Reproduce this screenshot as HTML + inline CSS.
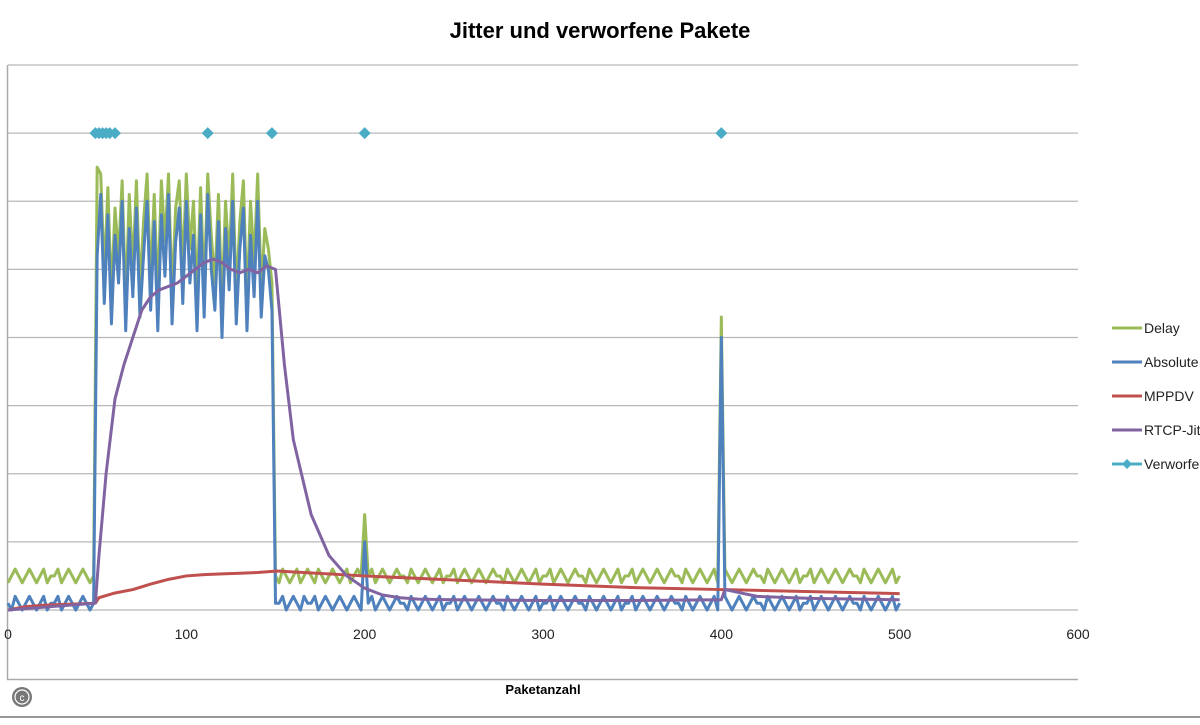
<!DOCTYPE html>
<html><head><meta charset="utf-8"><style>
body{margin:0;background:#fff;width:1200px;height:720px;overflow:hidden;font-family:"Liberation Sans",sans-serif}
</style></head><body>
<svg id="chart" width="1200" height="720" xmlns="http://www.w3.org/2000/svg" font-family="Liberation Sans, sans-serif">
<rect width="1200" height="720" fill="#fff"/>
<line x1="0" y1="717" x2="1200" y2="717" stroke="#999" stroke-width="2"/>
<text x="600" y="38" text-anchor="middle" font-size="22" font-weight="bold" fill="#000">Jitter und verworfene Pakete</text>
<g id="grid"></g>
<line x1="7.5" y1="65" x2="7.5" y2="679.5" stroke="#aaa" stroke-width="1.5"/>
<line x1="7" y1="679.5" x2="1078" y2="679.5" stroke="#aaa" stroke-width="1.5"/>
<g id="xticks"></g>
<text x="543" y="694" text-anchor="middle" font-size="13" font-weight="bold">Paketanzahl</text>
<g id="series"></g>
<g id="legend"></g>
<g><circle cx="22" cy="697" r="10" fill="#777"/><circle cx="22" cy="697" r="7" fill="none" stroke="#fff" stroke-width="1.2"/><text x="22" y="701" text-anchor="middle" font-size="10" fill="#fff">c</text></g>
</svg>
<script>
const xTicks=[0,100,200,300,400,500,600];
const step=2;
const absVals=[0.1,0.0,0.2,0.1,0.0,0.1,0.2,0.1,0.0,0.1,0.2,0.0,0.1,0.1,0.2,0.0,0.1,0.2,0.1,0.0,0.1,0.2,0.1,0.0,0.1,
5.2,6.1,4.5,5.8,4.2,5.5,4.8,6.0,4.1,5.6,4.6,5.9,4.3,5.2,6.0,4.4,5.7,4.1,5.8,4.9,6.1,4.2,5.4,5.9,4.5,6.0,4.8,5.5,4.1,5.8,4.3,6.1,5.0,4.4,5.7,4.0,5.6,4.7,6.0,4.2,5.3,5.9,4.1,5.5,4.6,6.0,4.3,5.2,5.0,4.4,
0.1,0.1,0.2,0.0,0.1,0.2,0.1,0.0,0.2,0.1,0.1,0.2,0.0,0.1,0.2,0.1,0.0,0.1,0.2,0.1,0.0,0.1,0.2,0.1,0.0,
1.0,
0.1,0.2,0.0,0.1,0.2,0.1,0.0,0.1,0.2,0.1,0.1,0.0,0.2,0.1,0.0,0.1,0.2,0.1,0.0,0.1,0.2,0.0,0.1,0.1,0.2,0.0,0.1,0.2,0.1,0.0,0.1,0.2,0.1,0.0,0.1,0.2,0.1,0.1,0.0,0.2,0.1,0.0,0.1,0.2,0.1,0.0,0.1,0.2,0.0,0.1,
0.1,0.2,0.0,0.1,0.2,0.1,0.0,0.1,0.2,0.1,0.1,0.0,0.2,0.1,0.0,0.1,0.2,0.1,0.0,0.1,0.2,0.0,0.1,0.1,0.2,0.0,0.1,0.2,0.1,0.0,0.1,0.2,0.1,0.0,0.1,0.2,0.1,0.1,0.0,0.2,0.1,0.0,0.1,0.2,0.1,0.0,0.1,0.2,0.0,
4.0,
0.2,0.1,0.0,0.1,0.2,0.1,0.0,0.1,0.2,0.1,0.1,0.0,0.2,0.1,0.0,0.1,0.2,0.1,0.0,0.1,0.2,0.0,0.1,0.1,0.2,0.0,0.1,0.2,0.1,0.0,0.1,0.2,0.1,0.0,0.1,0.2,0.1,0.1,0.0,0.2,0.1,0.0,0.1,0.2,0.1,0.0,0.1,0.2,0.0,0.1];
const delayVals=[0.4,0.5,0.6,0.5,0.4,0.5,0.6,0.5,0.4,0.5,0.6,0.4,0.5,0.5,0.6,0.4,0.5,0.6,0.5,0.4,0.5,0.6,0.5,0.4,0.5,
6.5,6.4,4.9,6.2,4.6,5.9,5.2,6.3,4.5,6.1,5.0,6.3,4.7,5.7,6.4,4.8,6.1,4.6,6.3,5.4,6.4,4.6,5.9,6.3,5.0,6.4,5.3,6.0,4.6,6.2,4.7,6.4,5.5,4.8,6.1,4.5,6.0,5.1,6.4,4.6,5.7,6.3,4.5,6.0,5.1,6.4,4.7,5.6,5.3,4.8,
0.5,0.4,0.6,0.5,0.4,0.5,0.6,0.4,0.5,0.6,0.5,0.4,0.6,0.5,0.4,0.5,0.6,0.5,0.4,0.5,0.6,0.4,0.5,0.6,0.5,
1.4,
0.5,0.6,0.4,0.5,0.6,0.5,0.4,0.5,0.6,0.5,0.5,0.4,0.6,0.5,0.4,0.5,0.6,0.5,0.4,0.5,0.6,0.4,0.5,0.5,0.6,0.4,0.5,0.6,0.5,0.4,0.5,0.6,0.5,0.4,0.5,0.6,0.5,0.5,0.4,0.6,0.5,0.4,0.5,0.6,0.5,0.4,0.5,0.6,0.4,0.5,
0.5,0.6,0.4,0.5,0.6,0.5,0.4,0.5,0.6,0.5,0.5,0.4,0.6,0.5,0.4,0.5,0.6,0.5,0.4,0.5,0.6,0.4,0.5,0.5,0.6,0.4,0.5,0.6,0.5,0.4,0.5,0.6,0.5,0.4,0.5,0.6,0.5,0.5,0.4,0.6,0.5,0.4,0.5,0.6,0.5,0.4,0.5,0.6,0.4,
4.3,
0.6,0.5,0.4,0.5,0.6,0.5,0.4,0.5,0.6,0.5,0.5,0.4,0.6,0.5,0.4,0.5,0.6,0.5,0.4,0.5,0.6,0.4,0.5,0.5,0.6,0.4,0.5,0.6,0.5,0.4,0.5,0.6,0.5,0.4,0.5,0.6,0.5,0.5,0.4,0.6,0.5,0.4,0.5,0.6,0.5,0.4,0.5,0.6,0.4,0.5];
const mppdvX=[0,10,20,30,40,49,51,60,70,80,90,100,110,120,130,140,150,152,200,250,300,350,400,402,450,500];
const mppdvY=[0,0.05,0.07,0.08,0.09,0.1,0.18,0.25,0.3,0.38,0.45,0.5,0.52,0.53,0.54,0.55,0.57,0.57,0.5,0.44,0.38,0.33,0.3,0.3,0.27,0.24];
const rtcpX=[0,49,51,55,60,65,70,75,80,85,90,95,100,105,110,115,120,125,130,135,140,145,150,155,160,170,180,190,200,210,220,230,250,300,350,400,402,420,450,500];
const rtcpY=[0,0.1,0.8,2.0,3.1,3.6,4.0,4.4,4.6,4.7,4.75,4.8,4.9,5.0,5.1,5.15,5.1,5.0,4.95,5.0,4.95,5.05,5.0,3.6,2.5,1.4,0.8,0.5,0.32,0.22,0.18,0.16,0.15,0.14,0.14,0.15,0.3,0.2,0.17,0.15];
const dropX=[49,51,53,55,57,60,112,148,200,400];
const dropY=[7,7,7,7,7,7,7,7,7,7];
const legendNames=["Delay","Absolute","MPPDV","RTCP-Jitter","Verworfene"];
const NS="http://www.w3.org/2000/svg";
const X=v=>8+v*(1078-8)/600;
const Y=v=>610-v*(610-65)/8;
const grid=document.getElementById('grid');
for(let k=0;k<=8;k++){const l=document.createElementNS(NS,'line');


l.setAttribute('x1',8);l.setAttribute('x2',1078);l.setAttribute('y1',Y(k));l.setAttribute('y2',Y(k));l.setAttribute('stroke','#b8b8b8');l.setAttribute('stroke-width',1.3);grid.appendChild(l);}
const xt=document.getElementById('xticks');
xTicks.forEach(t=>{const e=document.createElementNS(NS,'text');


e.setAttribute('x',X(t));e.setAttribute('y',639);e.setAttribute('text-anchor','middle');e.setAttribute('font-size','14');e.setAttribute('fill','#222');e.textContent=t;xt.appendChild(e);});
const ser=document.getElementById('series');
function line(xs,ys,color,name){const p=document.createElementNS(NS,'polyline');


p.setAttribute('points',xs.map((x,i)=>X(x)+','+Y(ys[i])).join(' '));p.setAttribute('fill','none');p.setAttribute('stroke',color);p.setAttribute('stroke-width',3);p.setAttribute('stroke-linejoin','round');ser.appendChild(p);}
const idx=delayVals.map((v,i)=>i*step);
line(idx,delayVals,'#9BBB59','delay-line');
line(absVals.map((v,i)=>i*step),absVals,'#4F81BD','absolute-line');
line(mppdvX,mppdvY,'#C0504D','mppdv-line');
line(rtcpX,rtcpY,'#8064A2','rtcp-jitter-line');
dropX.forEach((x,i)=>{const d=document.createElementNS(NS,'path');


const cx=X(x),cy=Y(dropY[i]);d.setAttribute('d',`M${cx},${cy-6}L${cx+6},${cy}L${cx},${cy+6}L${cx-6},${cy}Z`);d.setAttribute('fill','#4BACC6');ser.appendChild(d);});
const lg=document.getElementById('legend');const cols=['#9BBB59','#4F81BD','#C0504D','#8064A2','#4BACC6'];
legendNames.forEach((n,i)=>{const y=328+i*34;const g=document.createElementNS(NS,'g');


g.innerHTML=`<line x1="1112" y1="${y}" x2="1142" y2="${y}" stroke="${cols[i]}" stroke-width="3"/>`+(i==4?`<path d="M1127,${y-5}L1132,${y}L1127,${y+5}L1122,${y}Z" fill="${cols[i]}"/>`:'')+`<text x="1144" y="${y+5}" font-size="14" fill="#222">${n}</text>`;lg.appendChild(g);});
</script>
</body></html>
